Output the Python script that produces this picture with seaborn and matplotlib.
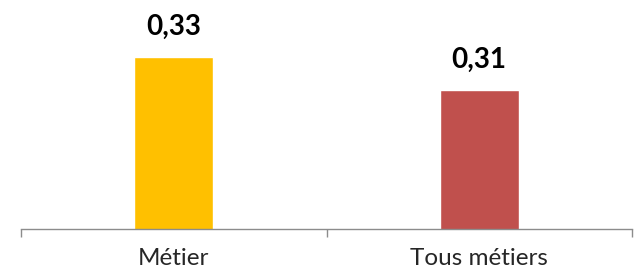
import matplotlib
matplotlib.use("Agg")
import matplotlib.pyplot as plt
import seaborn as sns
import pandas as pd

# --- données ---
categories = ['Métier', 'Tous métiers']
values = [0.33, 0.31]
labels = ['0,33', '0,31']
colors = ['#FFC000', '#C0504D']

df = pd.DataFrame({'categorie': categories, 'valeur': values})

sns.set_style('white')
plt.rcParams['font.family'] = ['Lato', 'DejaVu Sans']

fig = plt.figure(figsize=(6.4, 2.73), dpi=100)
ax = fig.add_axes([21 / 640, 1 - 229 / 273, 611 / 640, 229 / 273])

sns.barplot(data=df, x='categorie', y='valeur', hue='categorie',
            palette=colors, width=0.26, legend=False, ax=ax, saturation=1)

ax.set_xlim(-0.5, 1.5)
ax.set_ylim(0.2265, 0.3640)

# étiquettes de valeur
for i, (v, lab) in enumerate(zip(values, labels)):
    ax.annotate(lab, (i, v), xytext=(0, 12), textcoords='offset points',
                ha='center', va='bottom', fontsize=20, fontweight='bold',
                color='black')

for side in ['top', 'right', 'left']:
    ax.spines[side].set_visible(False)
ax.spines['bottom'].set_color('#8c8c8c')
ax.spines['bottom'].set_linewidth(1)

ax.set_yticks([])
ax.set_xlabel('')
ax.set_ylabel('')
ax.set_xticks([0, 1])
ax.set_xticklabels(categories, fontsize=17.5)
ax.tick_params(axis='x', length=0, pad=14)
ax.set_xticks([-0.5, 0.5, 1.5], minor=True)
ax.tick_params(axis='x', which='minor', length=6, width=1, color='#8c8c8c',
               direction='out', bottom=True)

fig.savefig('out.png', dpi=100)
